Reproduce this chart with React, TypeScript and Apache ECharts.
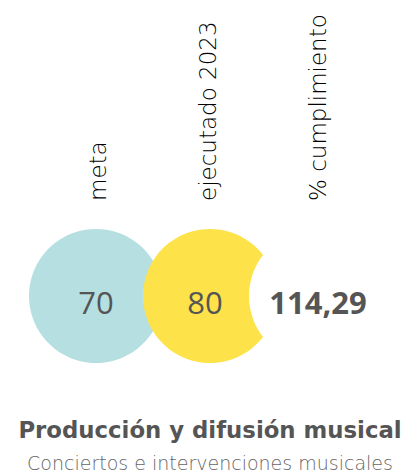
import React, { useEffect, useRef } from "react";
import * as echarts from "echarts";

const categories = ["meta", "ejecutado 2023", "% cumplimiento"];
const values = [70, 80, 114.29];
const valueLabels = ["70", "80", "114,29"];
const colors = ["#b5dfe1", "#fde24a", "#ffffff"];
const titleText = "Producción y difusión musical";
const subtitleText = "Conciertos e intervenciones musicales";

export default function App() {
  const ref = useRef<HTMLDivElement>(null);
  useEffect(() => {
    if (!ref.current) return;
    const chart = echarts.init(ref.current, null, { renderer: "svg" });
    const numFont = "'Open Sans', sans-serif";
    const font = "'DejaVu Sans', sans-serif";
    chart.setOption({
      animation: false,
      title: {
        text: titleText,
        subtext: subtitleText,
        left: "center",
        top: 413,
        itemGap: 12,
        textStyle: { fontFamily: font, fontWeight: "bold", fontSize: 22.8, color: "#555555" },
        subtextStyle: { fontFamily: font, fontWeight: 200, fontSize: 19, color: "#666666" },
      },
      grid: { left: 43, right: 47, top: 210, bottom: 93 },
      xAxis: {
        type: "category",
        position: "top",
        data: categories,
        axisLine: { show: false },
        axisTick: { show: false },
        splitLine: { show: false },
        axisLabel: {
          rotate: 90,
          margin: 9,
          fontFamily: font,
          fontSize: 23,
          fontWeight: 200,
          color: "#000000",
        },
      },
      yAxis: { type: "value", min: -1, max: 1, show: false },
      series: [
        {
          type: "scatter",
          symbol: "circle",
          symbolSize: 134,
          data: values.map((v, i) => ({
            value: [i, 0, v],
            itemStyle: { color: colors[i], opacity: 1 },
            symbolOffset: [[-2, 0], [2, 0], [-2, 0]][i],
            label: {
              show: true,
              position: "inside",
              formatter: valueLabels[i],
              offset: [[0, 6], [-5, 6], [2, 6]][i],
              fontFamily: numFont,
              fontSize: 31,
              fontWeight: i === 2 ? "bold" : "normal",
              color: "#555555",
            },
          })),
        },
      ],
    });
    return () => chart.dispose();
  }, []);
  return <div ref={ref} style={{ width: 420, height: 475, position: "absolute", left: 0, top: 0 }} />;
}
